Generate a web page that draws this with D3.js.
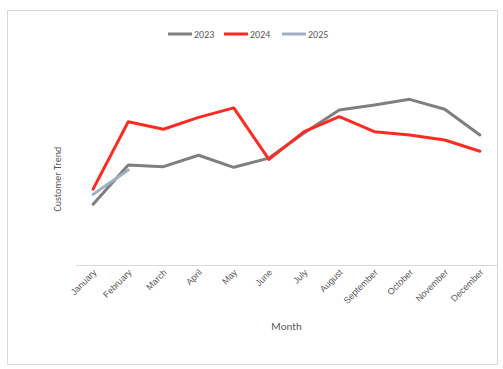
<!DOCTYPE html>
<html>
<head>
<meta charset="utf-8">
<script src="https://cdn.jsdelivr.net/npm/d3@7"></script>
<style>
  body { margin: 0; background: #fff; }
  svg { display: block; font-family: Calibri, Carlito, "Open Sans", "Liberation Sans", sans-serif; }
</style>
</head>
<body>
<div id="chart"></div>
<script>
'use strict';

const MONTHS = ['January','February','March','April','May','June','July','August','September','October','November','December']
const SERIES_NAMES = ['2023','2024','2025']
const VALUES_2023 = [27.6, 45.5, 44.7, 49.9, 44.4, 48.6, 60.0, 70.5, 72.7, 75.3, 70.8, 59.1]
const VALUES_2024 = [34.5, 65.1, 61.7, 67.1, 71.4, 48.0, 60.6, 67.4, 60.6, 59.1, 56.8, 51.7]
const VALUES_2025 = [32.1, 43.2]
const COLORS = {'2023': '#7f7f7f', '2024': '#ff2b23', '2025': '#9eb0c8'}

const series = [
  {name: '2023', values: VALUES_2023},
  {name: '2024', values: VALUES_2024},
  {name: '2025', values: VALUES_2025},
]

const W = 503, H = 369
const m = {top: 45, right: 5.5, bottom: 104, left: 75.5}
const w = W - m.left - m.right
const h = H - m.top - m.bottom

const svg = d3.select('#chart').append('svg')
  .attr('width', W).attr('height', H)

// outer frame
svg.append('rect')
  .attr('x', 7.5).attr('y', 10.5)
  .attr('width', 490).attr('height', 354)
  .attr('fill', '#fff').attr('stroke', '#d9d9d9')

const g = svg.append('g').attr('transform', 'translate(' + m.left + ',' + m.top + ')')

const x = d3.scaleBand().domain(MONTHS).range([0, w])
const y = d3.scaleLinear().domain([0, 100]).range([h, 0])

// category axis
const xAxis = g.append('g')
  .attr('transform', 'translate(0,' + h + ')')
  .call(d3.axisBottom(x).tickSize(0).tickPadding(0))
xAxis.select('.domain').attr('stroke', '#d9d9d9').attr('stroke-width', 1.2)
xAxis.selectAll('.tick text')
  .attr('fill', '#595959')
  .style('font-size', '9px')
  .attr('text-anchor', 'end')
  .attr('dy', 0)
  .attr('transform', 'translate(4,8) rotate(-45)')

const line = d3.line()
  .x((d, i) => x(MONTHS[i]) + x.bandwidth() / 2)
  .y(d => y(d))

g.selectAll('path.series')
  .data(series).enter().append('path')
  .attr('class', 'series')
  .attr('d', d => line(d.values))
  .attr('fill', 'none')
  .attr('stroke', d => COLORS[d.name])
  .attr('stroke-width', 3)
  .attr('stroke-linejoin', 'round')
  .attr('stroke-linecap', 'round')

// axis titles
svg.append('text')
  .attr('x', m.left + w / 2).attr('y', 330)
  .attr('text-anchor', 'middle')
  .attr('fill', '#595959')
  .style('font-size', '11px')
  .text('Month')

svg.append('text')
  .attr('transform', 'translate(61,' + (m.top + h * 0.61) + ') rotate(-90)')
  .attr('text-anchor', 'middle')
  .attr('fill', '#595959')
  .style('font-size', '10px')
  .text('Customer Trend')

// legend
const legendX = [168, 224, 282]
const legend = svg.append('g').selectAll('g')
  .data(SERIES_NAMES).enter().append('g')
  .attr('transform', (d, i) => 'translate(' + legendX[i] + ',34)')
legend.append('line')
  .attr('x1', 0).attr('x2', 24)
  .attr('stroke', d => COLORS[d])
  .attr('stroke-width', 3)
legend.append('text')
  .attr('x', 26).attr('y', 3.5)
  .attr('fill', '#595959')
  .style('font-size', '10px')
  .text(d => d)
</script>
</body>
</html>
